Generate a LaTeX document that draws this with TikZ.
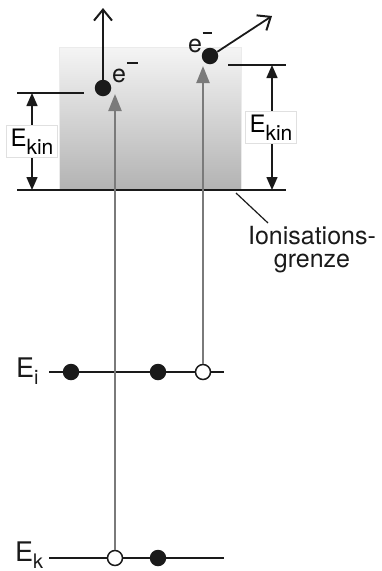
\documentclass[tikz,border=0pt]{standalone}
\usepackage{fontspec}
\setmainfont{TeX Gyre Heros}
\usetikzlibrary{arrows.meta}
\definecolor{ink}{HTML}{1A1A1A}
\definecolor{photon}{HTML}{7A7A7A}
\begin{document}
\begin{tikzpicture}[x=1pt,y=-1pt,
  level/.style={line width=1.8pt,ink},
  filled/.style={circle,fill=ink,minimum size=16.5pt,inner sep=0pt},
  hole/.style={circle,fill=white,draw=ink,line width=1.5pt,minimum size=15pt,inner sep=0pt},
  excite/.style={line width=2.2pt,photon,-{Triangle[length=17pt,width=13pt]}},
  escape/.style={line width=1.8pt,ink,-{Straight Barb[length=11pt,width=18pt,line width=2pt]}},
  dim/.style={line width=1.5pt,ink,{Triangle[length=13pt,width=11pt]}-{Triangle[length=13pt,width=11pt]}},
  kinlabel/.style={fill=white,draw=black!12,line width=0.6pt,inner xsep=4pt,inner ysep=3pt,
    font=\fontsize{24}{24}\selectfont},
  txt/.style={inner sep=0pt,text=ink}
]
\useasboundingbox (0,0) rectangle (382,571);

% continuum above the ionisation limit
\shade[top color=black!4,bottom color=black!30,draw=black!8,line width=0.5pt]
  (59,47) rectangle (241,190);

% ionisation limit and final energies of the two electrons
\coordinate (ionL) at (17,190);
\coordinate (ionR) at (286,190);
\draw[level] (ionL) -- (ionR);
\coordinate (finL1) at (17,93);
\coordinate (finL2) at (84,93);
\draw[level] (finL1) -- (finL2);
\coordinate (finR1) at (228,65);
\coordinate (finR2) at (286,65);
\draw[level] (finR1) -- (finR2);

% bound levels
\coordinate (ei1) at (49,372);
\coordinate (ei2) at (224,372);
\draw[level] (ei1) -- (ei2);
\coordinate (ek1) at (49,558);
\coordinate (ek2) at (224,558);
\draw[level] (ek1) -- (ek2);

% occupied and empty states
\node[filled] (ia) at (71,372) {};
\node[filled] (ib) at (158,372) {};
\node[hole]   (ih) at (203,372) {};
\node[hole]   (kh) at (115,558) {};
\node[filled] (kb) at (158,558) {};

% excitation arrows
\coordinate (tipL) at (115,94);
\coordinate (tipR) at (203,66);
\draw[excite] (kh.north) -- (tipL);
\draw[excite] (ih.north) -- (tipR);

% ejected electrons
\node[filled] (eL) at (103,88) {};
\node[filled] (eR) at (210,56) {};
\coordinate (outL) at (103,8);
\coordinate (outR) at (272,16);
\draw[escape] (eL.north) -- (outL);
\draw[escape] (eR.30) -- (outR);

\node[txt,anchor=base west,font=\fontsize{25}{25}\selectfont] (labL) at (112,82)
  {e\hspace{0.8pt}\raisebox{18pt}{\rule{11pt}{1.6pt}}};
\node[txt,anchor=base west,font=\fontsize{25}{25}\selectfont] (labR) at (188,52)
  {e\hspace{0.5pt}\raisebox{18pt}{\rule{9pt}{1.6pt}}};

% kinetic energies
\coordinate (dL1) at (32,93);
\coordinate (dL2) at (32,190);
\draw[dim] (dL1) -- (dL2);
\coordinate (dR1) at (272,65);
\coordinate (dR2) at (272,190);
\draw[dim] (dR1) -- (dR2);
\node[kinlabel] (kinL) at (32,141.5)
  {E\raisebox{-8pt}{\fontsize{21}{21}\selectfont kin}};
\node[kinlabel] (kinR) at (271,127.5)
  {E\raisebox{-8pt}{\fontsize{21}{21}\selectfont kin}};

% level names
\node[txt,anchor=base west,font=\fontsize{27}{27}\selectfont] (nEi) at (16,377)
  {E\raisebox{-7pt}{\fontsize{20}{20}\selectfont i}};
\node[txt,anchor=base west,font=\fontsize{27}{27}\selectfont] (nEk) at (15,561)
  {E\raisebox{-7pt}{\fontsize{20}{20}\selectfont k}};

% ionisation limit label
\node[txt,anchor=north,align=center,font=\fontsize{25}{23}\selectfont] (ion) at (312,226)
  {Ionisations-\\grenze};
\coordinate (lead1) at (236,193);
\coordinate (lead2) at (268,223);
\draw[line width=1.2pt,ink] (lead1) -- (lead2);
\end{tikzpicture}
\end{document}
